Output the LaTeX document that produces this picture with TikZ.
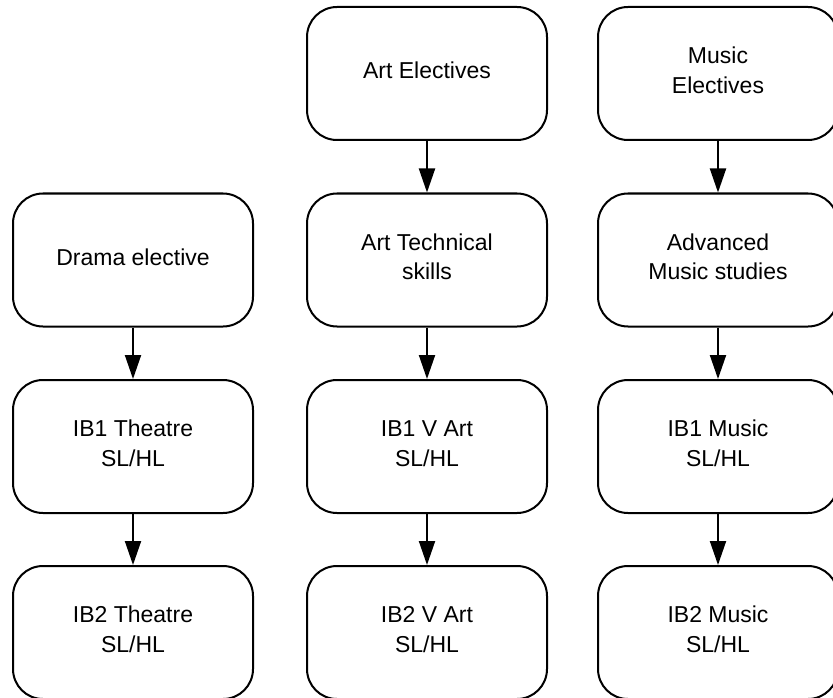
\documentclass[tikz,border=0pt]{standalone}
\usepackage{fontspec}
\setmainfont{Liberation Sans}
\usetikzlibrary{arrows.meta}
\begin{document}
\begin{tikzpicture}[x=1pt,y=1pt,
  course/.style={draw=black, line width=2pt, rounded corners=30pt,
    minimum width=240pt, minimum height=133pt, inner sep=0pt,
    label={[coursetext]center:{#1}}},
  coursetext/.style={align=center, inner sep=0pt, yshift=3pt,
    font=\fontsize{23}{29.5}\selectfont},
  flow/.style={line width=2pt, -{Triangle[length=24pt,width=16pt]}}]
\useasboundingbox (0,0) rectangle (833,-698);
% column 1: drama
\node[course={Drama elective}]      (drama)    at (133,-260)   {};
\node[course={IB1 Theatre\\SL/HL}]  (ib1thea)  at (133,-446.5) {};
\node[course={IB2 Theatre\\SL/HL}]  (ib2thea)  at (133,-632.5) {};
% column 2: visual art
\node[course={Art Electives}]       (art)      at (427,-73.5)  {};
\node[course={Art Technical\\skills}] (arttech) at (427,-260)  {};
\node[course={IB1 V Art\\SL/HL}]    (ib1art)   at (427,-446.5) {};
\node[course={IB2 V Art\\SL/HL}]    (ib2art)   at (427,-632.5) {};
% column 3: music
\node[course={Music\\Electives}]    (music)    at (718,-73.5)  {};
\node[course={Advanced\\Music studies}] (advmusic) at (718,-260) {};
\node[course={IB1 Music\\SL/HL}]    (ib1music) at (718,-446.5) {};
\node[course={IB2 Music\\SL/HL}]    (ib2music) at (718,-632.5) {};
% progression arrows
\draw[flow] (drama) -- (ib1thea);
\draw[flow] (ib1thea) -- (ib2thea);
\draw[flow] (art) -- (arttech);
\draw[flow] (arttech) -- (ib1art);
\draw[flow] (ib1art) -- (ib2art);
\draw[flow] (music) -- (advmusic);
\draw[flow] (advmusic) -- (ib1music);
\draw[flow] (ib1music) -- (ib2music);
\end{tikzpicture}
\end{document}
